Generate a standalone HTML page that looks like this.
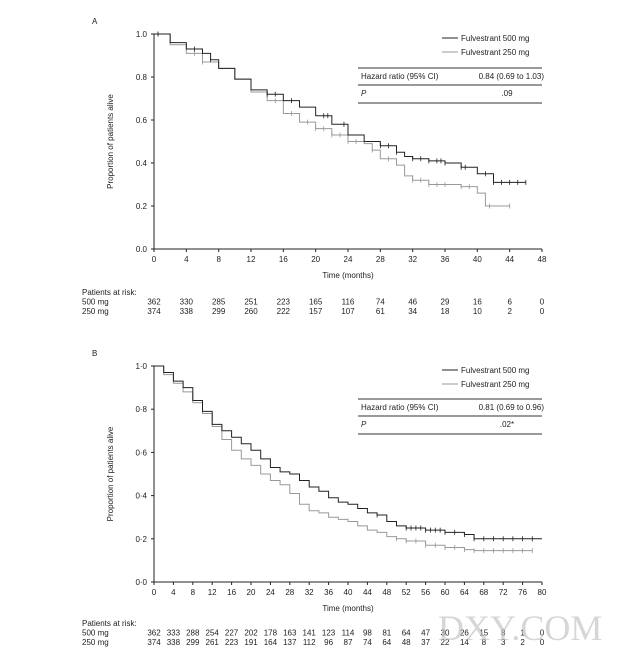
<!DOCTYPE html>
<html><head><meta charset="utf-8"><style>
body{margin:0;background:#fff;}
svg text{font-family:"Liberation Sans",sans-serif;font-size:8px;fill:#222;}
</style></head><body>
<svg id="fig" width="640" height="653" xmlns="http://www.w3.org/2000/svg"></svg>
<script>
// Panel A data
const aMonths500=[0,2,4,6,7,8,10,12,14,16,18,20,22,24,26,28,30,31,32,34,36,38,40,42,46];
const aSurv500=[1,0.96,0.93,0.91,0.88,0.84,0.79,0.74,0.72,0.69,0.66,0.62,0.58,0.53,0.50,0.48,0.45,0.43,0.42,0.41,0.40,0.38,0.35,0.31,0.31];
const aMonths250=[0,2,4,6,8,10,12,14,16,18,20,22,24,26,27,28,30,31,32,34,36,38,40,41,44];
const aSurv250=[1,0.95,0.91,0.87,0.84,0.79,0.73,0.69,0.63,0.59,0.56,0.53,0.50,0.49,0.46,0.42,0.39,0.34,0.32,0.30,0.30,0.29,0.26,0.20,0.20];
const aCensor500=[0.5,5,7,14,15,17,21,21.5,23.5,28,29,30,32,33,34,35,35.5,36,38,38.5,41,42,43,44,45,46];
const aCensor250=[0.5,5,6,15,17,19,20,21,22,23,24,25,27,29,32,33,34,35,36,38,39,41.5,44];
const aTicksX=[0,4,8,12,16,20,24,28,32,36,40,44,48];
const aTicksY=["0.0","0.2","0.4","0.6","0.8","1.0"];
const aRisk500=[362,330,285,251,223,165,116,74,46,29,16,6,0];
const aRisk250=[374,338,299,260,222,157,107,61,34,18,10,2,0];
// Panel B data
const bMonths500=[0,2,4,6,8,10,12,14,16,18,20,22,24,26,28,30,32,34,36,38,40,42,44,46,48,50,52,56,60,64,66,80];
const bSurv500=[1,0.97,0.93,0.90,0.84,0.79,0.73,0.70,0.67,0.64,0.61,0.57,0.53,0.51,0.50,0.47,0.44,0.42,0.39,0.37,0.36,0.34,0.32,0.31,0.28,0.26,0.25,0.24,0.23,0.22,0.20,0.20];
const bMonths250=[0,2,4,6,8,10,12,14,16,18,20,22,24,26,28,30,32,34,36,38,40,42,44,46,48,50,52,56,60,64,66,78];
const bSurv250=[1,0.96,0.92,0.88,0.83,0.78,0.72,0.66,0.61,0.57,0.54,0.50,0.47,0.45,0.41,0.36,0.33,0.32,0.30,0.29,0.28,0.26,0.24,0.23,0.21,0.20,0.19,0.17,0.16,0.15,0.145,0.145];
const bCensor500=[46,52,53,54,55,56,57,58,59,60,62,64,66,68,70,72,74,76,78];
const bCensor250=[50,52,54,56,58,60,62,64,66,68,70,72,74,76,78];
const bTicksX=[0,4,8,12,16,20,24,28,32,36,40,44,48,52,56,60,64,68,72,76,80];
const bTicksY=["0·0","0·2","0·4","0·6","0·8","1·0"];
const bRisk500=[362,333,288,254,227,202,178,163,141,123,114,98,81,64,47,30,26,15,8,1,0];
const bRisk250=[374,338,299,261,223,191,164,137,112,96,87,74,64,48,37,22,14,8,3,2,0];

const svg=document.getElementById('fig');
const NS="http://www.w3.org/2000/svg";
function el(tag,attrs,txt){const e=document.createElementNS(NS,tag);for(const k in attrs)e.setAttribute(k,attrs[k]);if(txt!==undefined)e.textContent=txt;svg.appendChild(e);return e;}

function panel(p){
  const sx=m=>154+(m/p.xmax)*388;
  const sy=v=>p.y0-v*(p.y0-p.y1);
  let t=el('text',{x:92,y:p.y1-10},p.label);
  
  
  let ax=el('path',{d:`M154 ${p.y1} V${p.y0} H542`,stroke:'#222','stroke-width':1,fill:'none'});
  
  
  p.ticksX.forEach(m=>{
    el('line',{x1:sx(m),x2:sx(m),y1:p.y0,y2:p.y0+3,stroke:'#222'});
    const tt=el('text',{x:sx(m),y:p.y0+13,'text-anchor':'middle'},String(m));
    
    
  });
  p.ticksY.forEach((s,i)=>{
    const v=i*0.2;
    el('line',{x1:151,x2:154,y1:sy(v),y2:sy(v),stroke:'#222'});
    const tt=el('text',{x:147,y:sy(v)+3,'text-anchor':'end'},s);
    
    
  });
  t=el('text',{x:348,y:p.y0+29,'text-anchor':'middle'},'Time (months)');
  
  
  const my=(p.y0+p.y1)/2;
  t=el('text',{x:0,y:0,'text-anchor':'middle',transform:`translate(113,${my}) rotate(-90)`},'Proportion of patients alive');
  
  
  function curve(ms,vs,cens,color,name){
    let d=`M${sx(ms[0])} ${sy(vs[0])}`;
    for(let i=1;i<ms.length;i++){d+=` H${sx(ms[i])} V${sy(vs[i])}`;}
    const c=el('path',{d,stroke:color,'stroke-width':1,fill:'none'});
    
    
    cens.forEach(m=>{
      let v=vs[0];for(let i=0;i<ms.length;i++){if(ms[i]<=m)v=vs[i];}
      const k=el('line',{x1:sx(m),x2:sx(m),y1:sy(v)-2.5,y2:sy(v)+2.5,stroke:color,'stroke-width':0.8});
      
      
    });
  }
  curve(p.m250,p.s250,p.c250,'#999','curve-250mg');
  curve(p.m500,p.s500,p.c500,'#222','curve-500mg');
  const ly=p.y1+4;
  el('line',{x1:442,x2:458,y1:ly,y2:ly,stroke:'#222'});
  t=el('text',{x:461,y:ly+3},'Fulvestrant 500 mg');
  el('line',{x1:442,x2:458,y1:ly+14,y2:ly+14,stroke:'#999'});
  t=el('text',{x:461,y:ly+17},'Fulvestrant 250 mg');
  const ty=p.tableY;
  [ty,ty+17,ty+35].forEach(y=>el('line',{x1:358,x2:542,y1:y,y2:y,stroke:'#333','stroke-width':1}));
  t=el('text',{x:361,y:ty+11},'Hazard ratio (95% CI)');
  t=el('text',{x:544,y:ty+11,'text-anchor':'end'},p.hr);
  t=el('text',{x:361,y:ty+28,'font-style':'italic'},'P');
  t=el('text',{x:507,y:ty+28,'text-anchor':'middle'},p.pv);
  const ry=p.riskY;
  t=el('text',{x:82,y:ry},'Patients at risk:');
  t=el('text',{x:82,y:ry+9.5},'500 mg');
  t=el('text',{x:82,y:ry+19},'250 mg');
  p.ticksX.forEach((m,i)=>{
    let a=el('text',{x:sx(m),y:ry+9.5,'text-anchor':'middle'},String(p.r500[i]));
    
    a=el('text',{x:sx(m),y:ry+19,'text-anchor':'middle'},String(p.r250[i]));
    
  });
}
panel({label:'A',xmax:48,y0:249,y1:34,ticksX:aTicksX,ticksY:aTicksY,m500:aMonths500,s500:aSurv500,m250:aMonths250,s250:aSurv250,c500:aCensor500,c250:aCensor250,hr:'0.84 (0.69 to 1.03)',pv:'.09',tableY:68,riskY:295,r500:aRisk500,r250:aRisk250});
panel({label:'B',xmax:80,y0:582,y1:366,ticksX:bTicksX,ticksY:bTicksY,m500:bMonths500,s500:bSurv500,m250:bMonths250,s250:bSurv250,c500:bCensor500,c250:bCensor250,hr:'0.81 (0.69 to 0.96)',pv:'.02*',tableY:399,riskY:626,r500:bRisk500,r250:bRisk250});
const w=el('text',{x:438,y:640,style:'font-size:36px;font-family:"Liberation Serif",serif;fill:#bbb;opacity:0.6'},'DXY.COM');


</script>
</body></html>
